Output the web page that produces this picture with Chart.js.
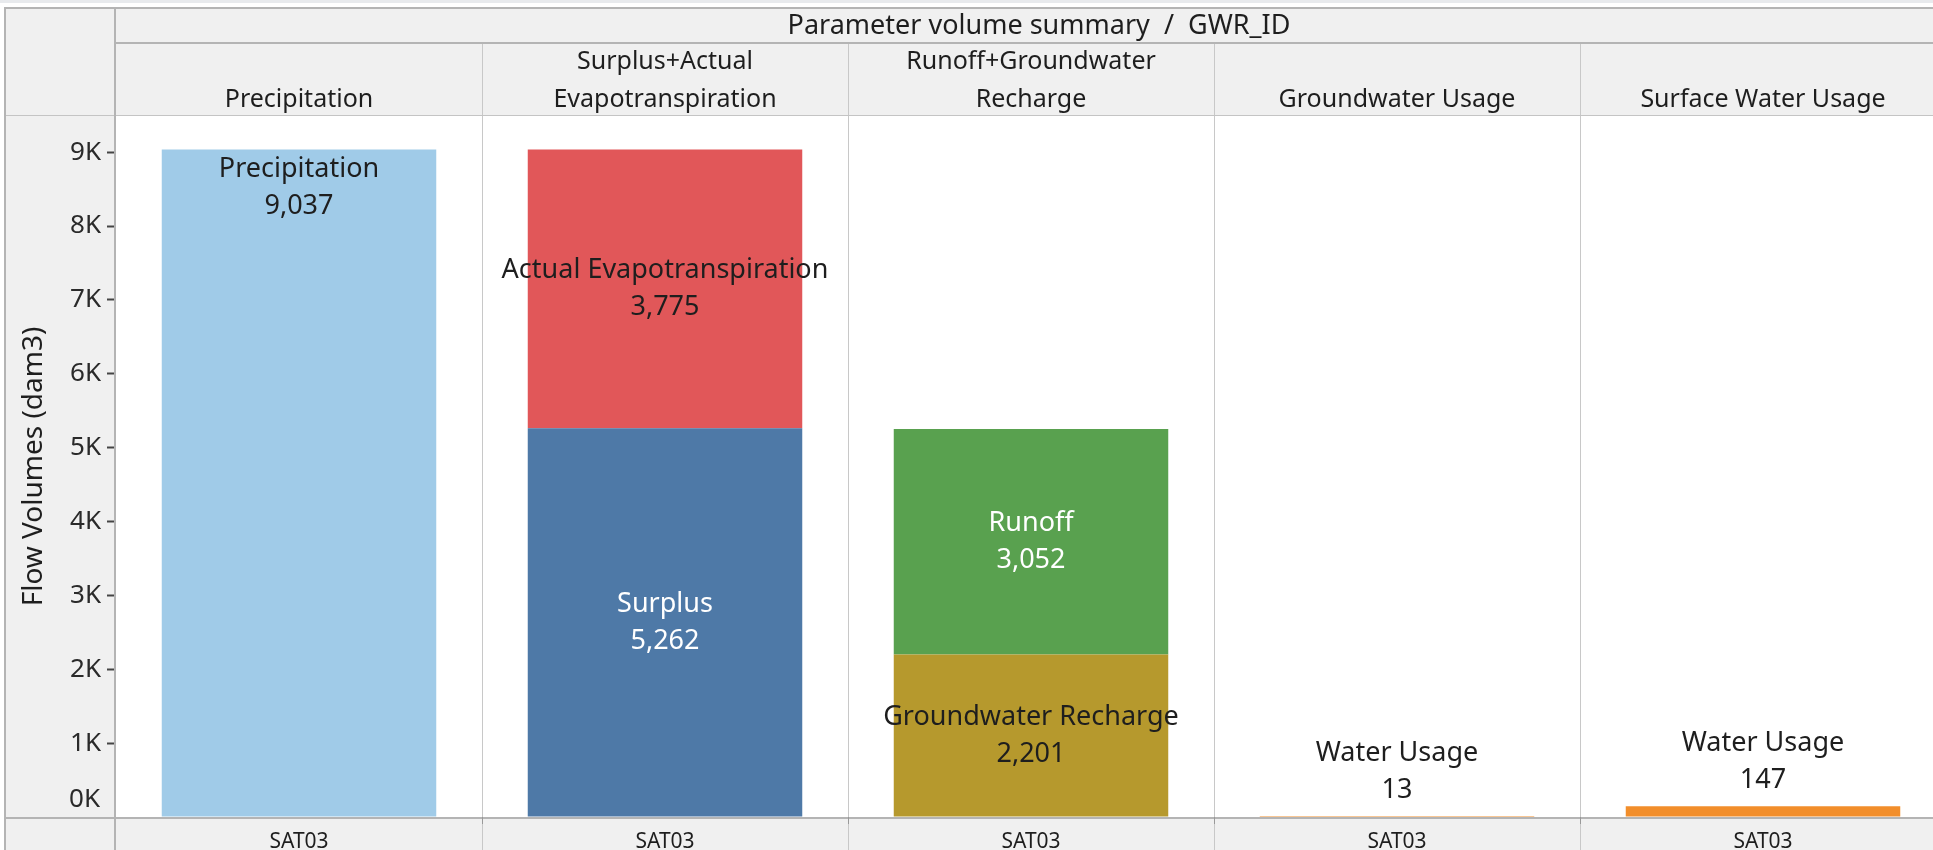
<!DOCTYPE html>
<html><head><meta charset="utf-8">
<script src="https://cdn.jsdelivr.net/npm/chart.js@4.4.1/dist/chart.umd.min.js"></script>
<style>
html,body{margin:0;padding:0;overflow:hidden;background:#fff;width:1933px;height:850px}
#wrap{position:absolute;left:0;top:0;width:1948px;height:850px}
canvas{display:block}
</style>
</head><body><div id="wrap"><canvas id="c" width="1948" height="850"></canvas></div>
<script>
// ---- data ----
const categories = ['Precipitation','Surplus+Actual Evapotranspiration','Runoff+Groundwater Recharge','Groundwater Usage','Surface Water Usage'];
const headerLines = [['Precipitation'],['Surplus+Actual','Evapotranspiration'],['Runoff+Groundwater','Recharge'],['Groundwater Usage'],['Surface Water Usage']];
const gwrIds = ['SAT03','SAT03','SAT03','SAT03','SAT03'];
const precipitation = [9037, null, null, null, null];
const surplus       = [null, 5262, null, null, null];
const actualET      = [null, 3775, null, null, null];
const gwRecharge    = [null, null, 2201, null, null];
const runoff        = [null, null, 3052, null, null];
const waterUsage    = [null, null, null, 13, 147];
const yTickValues = [0,1000,2000,3000,4000,5000,6000,7000,8000,9000];
const yMax = 9490;
const chartTitle = 'Parameter volume summary  /  GWR_ID';
const yTitle = 'Flow Volumes (dam3)';

const FONT = '"Noto Sans", "Open Sans", sans-serif';
const TXT = '#1e1e1e';

const datasets = [
  {label:'Precipitation', data:precipitation, backgroundColor:'#a0cbe8', labelColor:TXT, labelMode:'top'},
  {label:'Surplus', data:surplus, backgroundColor:'#4e79a7', labelColor:'#ffffff', labelMode:'center'},
  {label:'Actual Evapotranspiration', data:actualET, backgroundColor:'#e15759', labelColor:TXT, labelMode:'center'},
  {label:'Groundwater Recharge', data:gwRecharge, backgroundColor:'#b6992d', labelColor:TXT, labelMode:'center'},
  {label:'Runoff', data:runoff, backgroundColor:'#59a14f', labelColor:'#ffffff', labelMode:'center'},
  {label:'Water Usage', data:waterUsage, backgroundColor:'#f28e2b', labelColor:TXT, labelMode:'above'}
].map(d => Object.assign(d, {barPercentage:0.75, categoryPercentage:1.0, borderWidth:0}));

const frame = {
  id:'frame',
  beforeDraw(chart){
    const ctx = chart.ctx, a = chart.chartArea, W = chart.width, H = chart.height;
    ctx.save();
    ctx.fillStyle = '#ffffff'; ctx.fillRect(0,0,W,H);
    ctx.fillStyle = '#e8eaed'; ctx.fillRect(0,0,W,3);
    ctx.fillStyle = '#f0f0f0';
    ctx.fillRect(4,8,a.left-4,H-8);
    ctx.fillRect(a.left,8,W-a.left,a.top-8);
    ctx.fillRect(a.left,a.bottom,W-a.left,H-a.bottom);
    ctx.restore();
  },
  afterDatasetsDraw(chart){
    const ctx = chart.ctx;
    ctx.save();
    ctx.font = '27px ' + FONT;
    ctx.textAlign = 'center';
    ctx.textBaseline = 'middle';
    const LS = 37;
    chart.data.datasets.forEach((ds, di) => {
      const meta = chart.getDatasetMeta(di);
      meta.data.forEach((el, i) => {
        const v = ds.data[i];
        if (v === null || v === undefined) return;
        const lines = [ds.label, v.toLocaleString('en-US')];
        let y0;
        if (ds.labelMode === 'top') y0 = el.y + 20;
        else if (ds.labelMode === 'center') y0 = (el.y + el.base)/2 - LS/2;
        else y0 = el.y - 26 - LS;
        ctx.fillStyle = ds.labelColor;
        lines.forEach((t, k) => ctx.fillText(t, el.x, y0 + k*LS));
      });
    });
    ctx.restore();
  },
  afterDraw(chart){
    const ctx = chart.ctx, a = chart.chartArea, W = chart.width, H = chart.height;
    const xs = chart.scales.x, ys = chart.scales.y;
    ctx.save();
    // column separators
    ctx.fillStyle = '#c8c8c8';
    for (let i = 0; i < categories.length; i++) {
      const xr = i < categories.length-1 ? Math.round((xs.getPixelForValue(i)+xs.getPixelForValue(i+1))/2) : Math.round(a.right);
      ctx.fillRect(xr, 43, 1, H-43);
    }
    // header bottom
    ctx.fillStyle = '#c4c4c4';
    ctx.fillRect(4, a.top-1, W, 1);
    // main borders
    ctx.fillStyle = '#b4b4b4';
    ctx.fillRect(4, 7, W-4, 2);
    ctx.fillRect(4, 7, 2, H-7);
    ctx.fillRect(a.left-2, 7, 2, H-7);
    ctx.fillRect(a.left, 42, W-a.left, 2);
    ctx.fillRect(4, Math.round(a.bottom), W-4, 2);
    // small ticks at separators on bottom line
    ctx.fillStyle = '#999';
    for (let i = 0; i < categories.length-1; i++) {
      const xr = Math.round((xs.getPixelForValue(i)+xs.getPixelForValue(i+1))/2);
      ctx.fillRect(xr, a.bottom, 1, 7);
    }
    // title
    ctx.fillStyle = TXT;
    ctx.textAlign = 'center';
    ctx.textBaseline = 'middle';
    ctx.font = '27px ' + FONT;
    ctx.fillText(chartTitle, (a.left + a.right)/2 + 8, 26);
    // column headers
    ctx.font = '25px ' + FONT;
    headerLines.forEach((lines, i) => {
      const x = xs.getPixelForValue(i);
      const n = lines.length;
      lines.forEach((t, k) => ctx.fillText(t, x, 100 - (n-1-k)*38));
    });
    // 0K label (shifted up as in reference)
    ctx.fillStyle = '#2a2a2a';
    ctx.textAlign = 'right';
    ctx.font = '26px ' + FONT;
    ctx.fillText(ys.options.ticks.callback(0), a.left - 16, ys.getPixelForValue(0) - 17);
    ctx.restore();
  }
};

new Chart(document.getElementById('c'), {
  type:'bar',
  data:{labels:categories, datasets},
  options:{
    responsive:false,
    devicePixelRatio:1,
    animation:false,
    layout:{padding:{top:116, left:0, right:2, bottom:0}},
    plugins:{legend:{display:false}, tooltip:{enabled:false}},
    scales:{
      x:{
        stacked:true,
        grid:{display:false},
        border:{display:false},
        ticks:{
          callback:(v,i) => gwrIds[i],
          font:{family:FONT, size:21},
          color:'#1e1e1e',
          padding:4,
          maxRotation:0
        },
        afterFit:(s) => { s.height = 33; }
      },
      y:{
        stacked:true,
        min:0, max:yMax,
        afterBuildTicks:(s) => { s.ticks = yTickValues.map(v => ({value:v})); },
        grid:{drawOnChartArea:false, drawTicks:true, tickLength:9, tickWidth:2,
              tickColor:(c) => c.tick && c.tick.value === 0 ? 'rgba(0,0,0,0)' : '#444'},
        border:{display:false},
        ticks:{
          callback:(v) => (v/1000) + 'K',
          font:{family:FONT, size:26},
          color:(c) => c.tick && c.tick.value === 0 ? 'rgba(0,0,0,0)' : '#2a2a2a',
          padding:6
        },
        title:{display:true, text:yTitle, font:{family:FONT, size:28}, color:'#1e1e1e', padding:{top:17, bottom:0}},
        afterFit:(s) => { s.width = 116; }
      }
    }
  },
  plugins:[frame]
});
</script>
</body></html>
